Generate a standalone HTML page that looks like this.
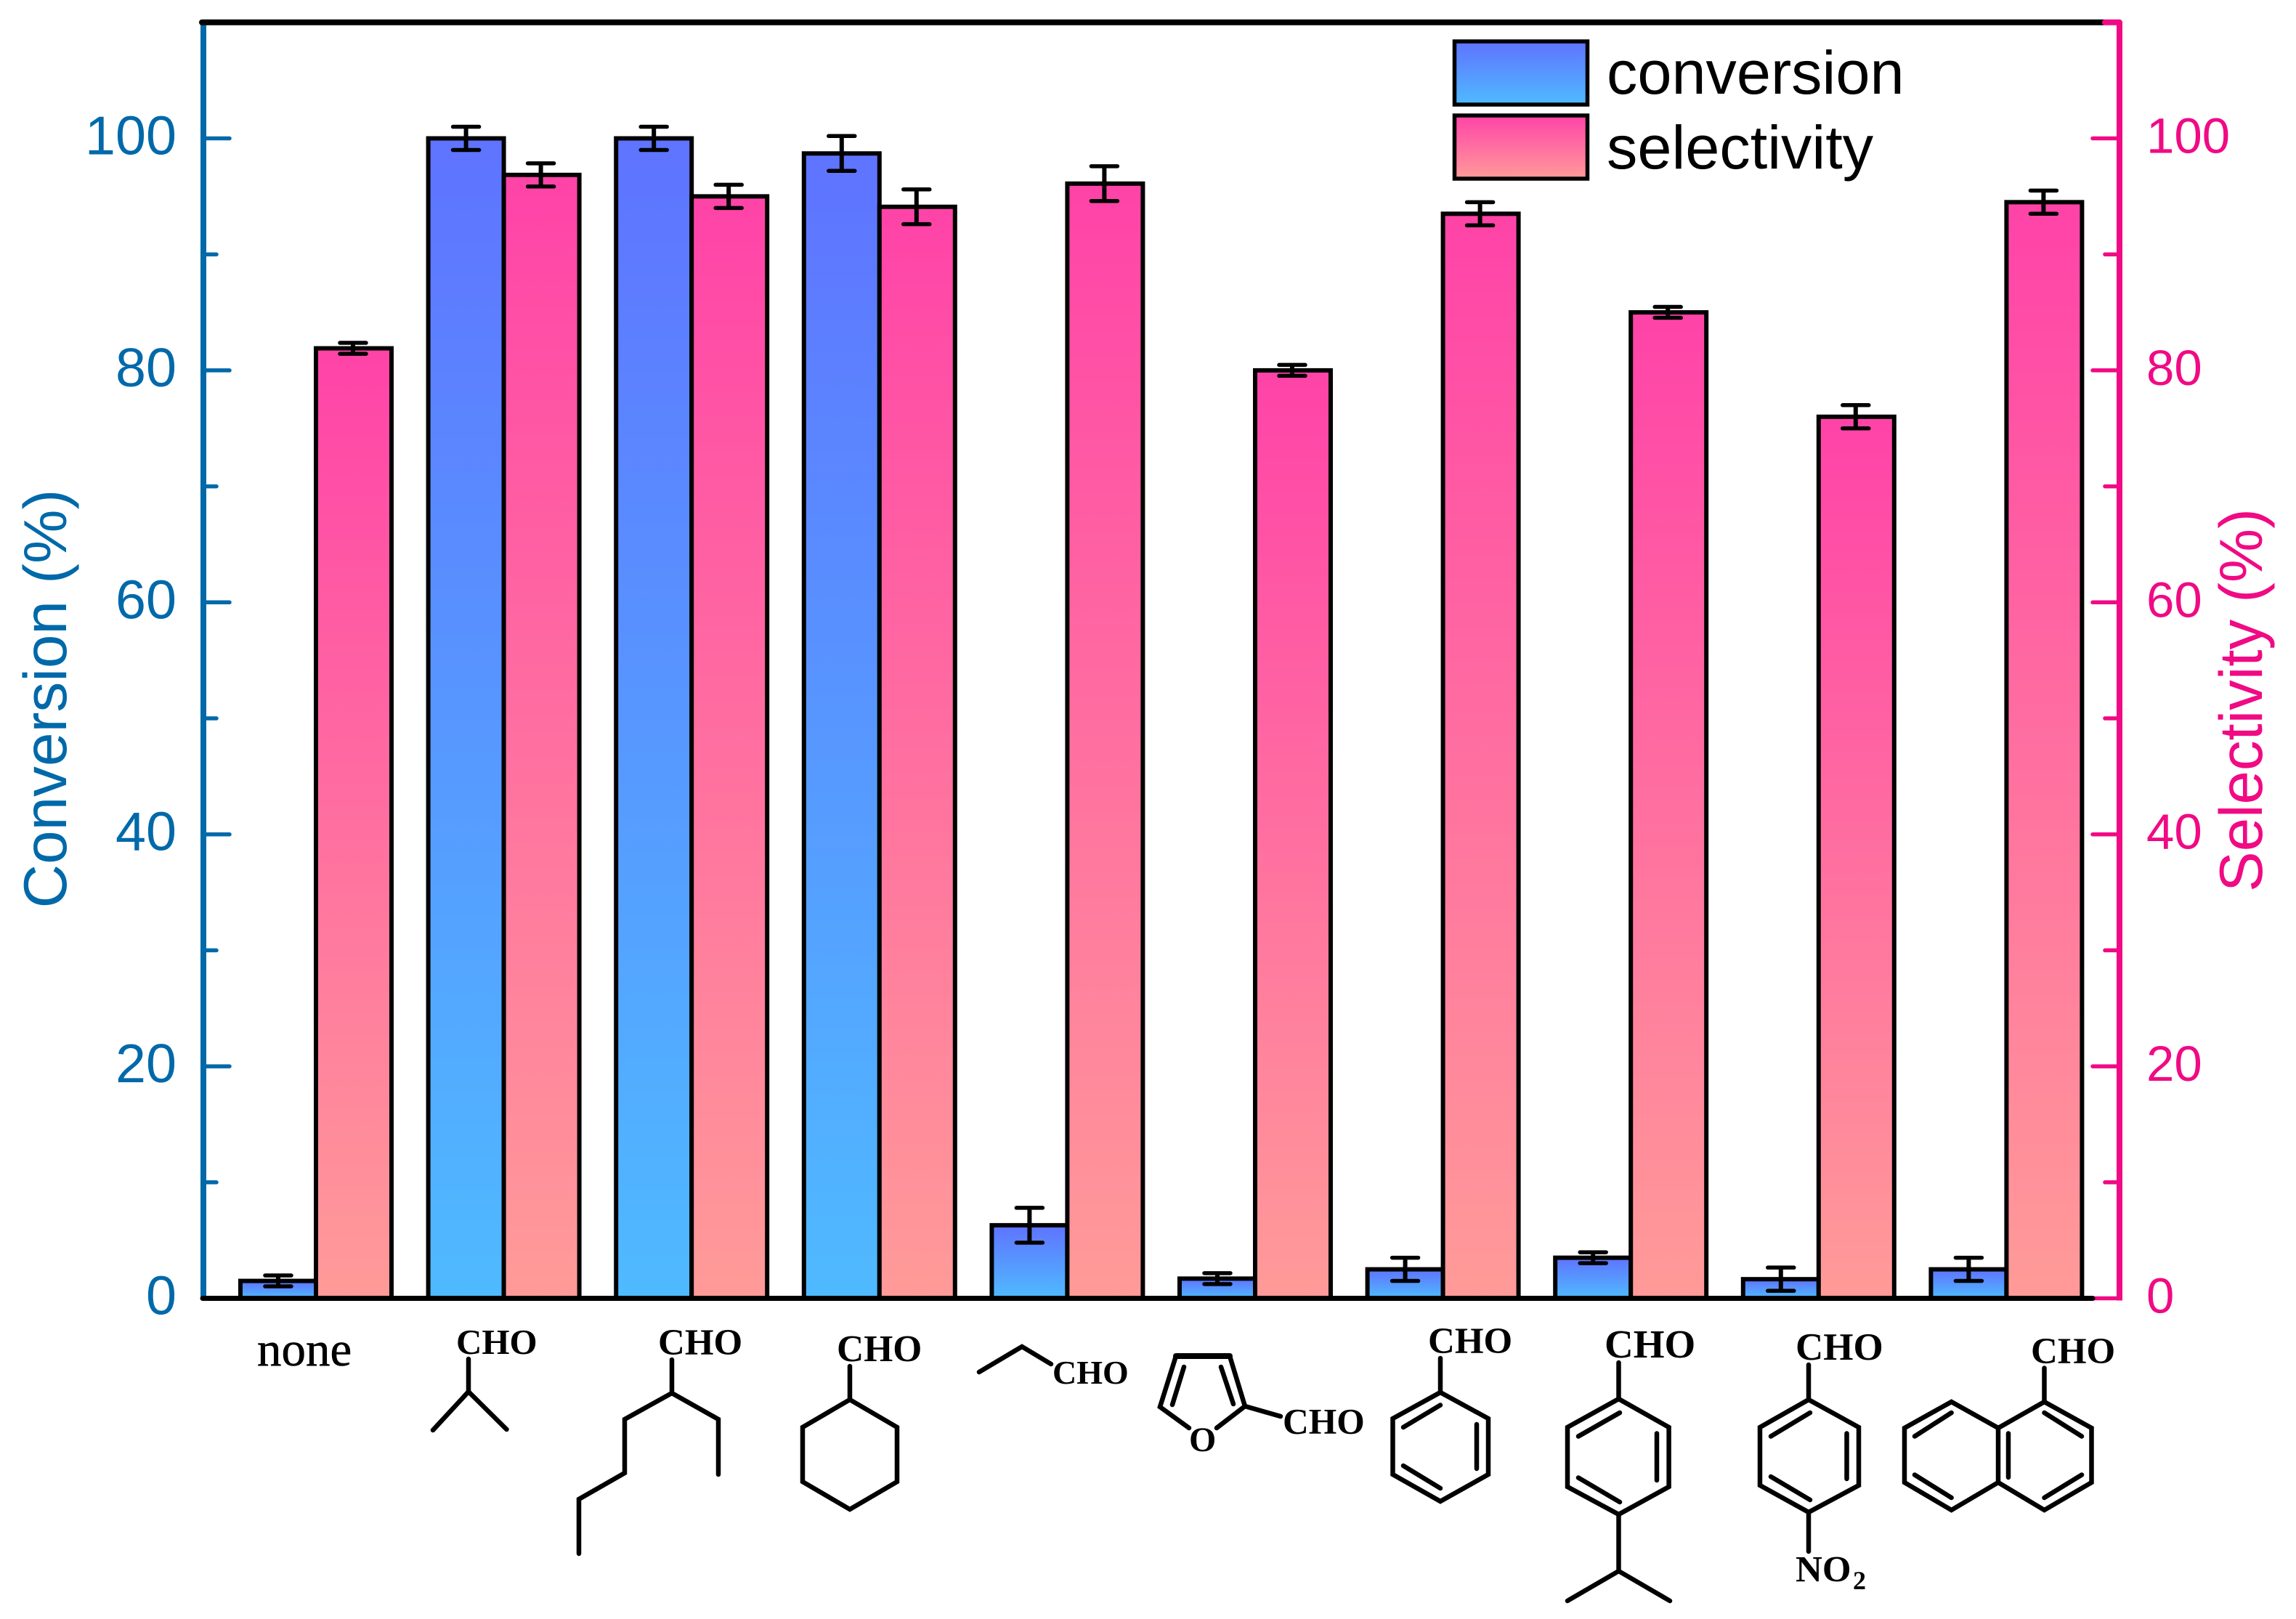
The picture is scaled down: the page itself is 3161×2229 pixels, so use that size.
<!DOCTYPE html>
<html lang="en">
<head>
<meta charset="utf-8">
<title>Conversion and selectivity by aldehyde substrate</title>
<style>
  html, body { margin: 0; padding: 0; background: #fff; width: 3161px; height: 2229px; overflow: hidden; }
  svg { display: block; }
  .mol { fill: none; stroke: #000; stroke-width: 6.5; stroke-linecap: round; stroke-linejoin: miter; }
  .chem { font-family: "Liberation Serif", serif; font-weight: bold; fill: #000; }
</style>
</head>
<body>
<svg id="chart" xmlns="http://www.w3.org/2000/svg" width="3161" height="2229" viewBox="0 0 3161 2229">
  <defs>
    <linearGradient id="grad-conv" x1="0" y1="0" x2="0" y2="1">
      <stop offset="0" stop-color="#5f73ff"/>
      <stop offset="1" stop-color="#4fbaff"/>
    </linearGradient>
    <linearGradient id="grad-sel" x1="0" y1="0" x2="0" y2="1">
      <stop offset="0" stop-color="#ff43a8"/>
      <stop offset="1" stop-color="#ff9b98"/>
    </linearGradient>
  </defs>
  <rect x="0" y="0" width="3161" height="2229" fill="#fff"/>
  <g id="bars"></g>
  <g id="errors"></g>
  <g id="axes"></g>

  <text transform="translate(91,962) rotate(-90)" text-anchor="middle" font-family="'Liberation Sans', sans-serif" font-size="83.7" fill="#0069aa">Conversion (%)</text>
  <text transform="translate(3114,964) rotate(-90)" text-anchor="middle" font-family="'Liberation Sans', sans-serif" font-size="83.3" fill="#f00a84">Selectivity (%)</text>

  <g>
    <g>
      <rect x="2002.5" y="57" width="183" height="87" fill="url(#grad-conv)" stroke="#000" stroke-width="5.5"/>
      <text x="2212" y="129" font-family="'Liberation Sans', sans-serif" font-size="84.7" fill="#000">conversion</text>
    </g>
    <g>
      <rect x="2002.5" y="159" width="183" height="87" fill="url(#grad-sel)" stroke="#000" stroke-width="5.5"/>
      <text x="2212" y="232" font-family="'Liberation Sans', sans-serif" font-size="84.7" fill="#000">selectivity</text>
    </g>
  </g>

  <g>
    <text x="354" y="1880" font-family="'Liberation Serif', serif" font-size="67" fill="#000" stroke="#000" stroke-width="0.6">none</text>

    <g>
      <text class="chem" x="628" y="1864" font-size="49">CHO</text>
      <polyline class="mol" points="645,1871 645,1916 596,1969"/>
      <polyline class="mol" points="645,1916 697.5,1968"/>
    </g>

    <g>
      <text class="chem" x="906" y="1865" font-size="51">CHO</text>
      <polyline class="mol" points="925,1872 925,1918 860,1954 860,2028 797,2064 797,2139"/>
      <polyline class="mol" points="925,1918 989,1954 989,2030"/>
    </g>

    <g>
      <text class="chem" x="1152" y="1874" font-size="51.5">CHO</text>
      <polyline class="mol" points="1170,1881 1170,1927"/>
      <polygon class="mol" points="1170,1927 1235,1965 1235,2040 1170,2078 1105,2040 1105,1965"/>
    </g>

    <g>
      <text class="chem" x="1449" y="1905" font-size="46">CHO</text>
      <polyline class="mol" points="1348,1889 1407,1854 1447,1878"/>
    </g>

    <g>
      <text class="chem" x="1637" y="1998" font-size="48">O</text>
      <text class="chem" x="1766" y="1973.5" font-size="49.5">CHO</text>
      <polyline class="mol" points="1637,1966 1597,1937 1619,1867 1693,1867 1714,1936 1675,1966"/>
      <polyline class="mol" points="1619,1867 1693,1867" style="stroke-width:8"/>
      <polyline class="mol" points="1630,1882 1614,1934"/>
      <polyline class="mol" points="1681,1882 1698,1933"/>
      <polyline class="mol" points="1714,1936 1763,1950"/>
    </g>

    <g>
      <text class="chem" x="1966" y="1863" font-size="51">CHO</text>
      <polyline class="mol" points="1983,1870 1983,1917"/>
      <polygon class="mol" points="1983,1917 2049,1953 2049,2030 1983,2067 1917.5,2030 1917.5,1953"/>
      <polyline class="mol" points="1932,1965 1983,1934.5"/>
      <polyline class="mol" points="2033,1961 2033,2022"/>
      <polyline class="mol" points="1932,2018 1983,2049"/>
    </g>

    <g>
      <text class="chem" x="2209" y="1869" font-size="55">CHO</text>
      <polyline class="mol" points="2228.5,1876 2228.5,1926"/>
      <polygon class="mol" points="2228.5,1926 2297.6,1965 2297.6,2047 2228.5,2085 2158,2047 2158,1965"/>
      <polyline class="mol" points="2173,1977.5 2230,1945"/>
      <polyline class="mol" points="2281,1973.5 2281,2038"/>
      <polyline class="mol" points="2173,2034.5 2230,2068"/>
      <polyline class="mol" points="2228.5,2085 2228.5,2163 2158,2204"/>
      <polyline class="mol" points="2228.5,2163 2299,2204"/>
    </g>

    <g>
      <text class="chem" x="2472" y="1872" font-size="53">CHO</text>
      <polyline class="mol" points="2490,1879 2490,1927"/>
      <polygon class="mol" points="2490,1927 2559,1965 2559,2045 2490,2082 2423,2045 2423,1965"/>
      <polyline class="mol" points="2438,1977.5 2492,1945"/>
      <polyline class="mol" points="2542.5,1973.5 2542.5,2036"/>
      <polyline class="mol" points="2438,2033 2492,2065"/>
      <polyline class="mol" points="2490,2082 2490,2136"/>
      <text class="chem" x="2472" y="2177.5" font-size="51">NO</text>
      <text class="chem" x="2551" y="2188" font-size="36">2</text>
    </g>

    <g>
      <text class="chem" x="2796" y="1877" font-size="51">CHO</text>
      <polyline class="mol" points="2814.5,1883.5 2814.5,1930"/>
      <polygon class="mol" points="2814.5,1930 2879.5,1966 2879.5,2041 2814.5,2079 2751,2041 2751,1966"/>
      <polyline class="mol" points="2751,1966 2686.6,1930 2622,1966 2622,2041 2686.6,2079 2751,2041"/>
      <polyline class="mol" points="2814.5,1945 2866,1977.5"/>
      <polyline class="mol" points="2866,2030.5 2814.5,2062"/>
      <polyline class="mol" points="2765,1973.5 2765,2034"/>
      <polyline class="mol" points="2636,1977.5 2686.6,1945"/>
      <polyline class="mol" points="2636,2030.5 2686.6,2062"/>
    </g>
  </g>
</svg>

<script>
const categories = ["none", "isobutyraldehyde", "2-ethylhexanal", "cyclohexanecarbaldehyde", "propanal", "furfural", "benzaldehyde", "4-isopropylbenzaldehyde", "4-nitrobenzaldehyde", "1-naphthaldehyde"];
const conversion = [1.5, 100, 100, 98.7, 6.3, 1.7, 2.5, 3.5, 1.65, 2.5];
const conversionErr = [0.47, 1, 1, 1.5, 1.5, 0.47, 1, 0.47, 1, 1];
const selectivity = [81.9, 96.85, 95, 94.1, 96.1, 80, 93.5, 85, 76, 94.5];
const selectivityErr = [0.47, 1, 1, 1.5, 1.5, 0.47, 1, 0.47, 1, 1];
const majorTicks = [0, 20, 40, 60, 80, 100];
const minorTicks = [10, 30, 50, 70, 90];

const NS = 'http://www.w3.org/2000/svg';
const barsLayer = document.getElementById('bars');
const errorsLayer = document.getElementById('errors');
const axesLayer = document.getElementById('axes');

function yScale(v) { return 1787.5 - v * 15.97; }
function xScale(i) { return 435 + i * 258.6; }
const BAR_W = 104;
const LEFT_X = 280;
const RIGHT_X = 2918;
const BLUE = '#0069aa';
const PINK = '#f00a84';

function make(tag, attrs, parent) {
  const el = document.createElementNS(NS, tag);
  for (const k in attrs) el.setAttribute(k, attrs[k]);
  parent.appendChild(el);
  return el;
}

function drawBar(i, v, x, fill, series) {
  const top = yScale(v);
  const el = make('rect', { x: x, y: top, width: BAR_W, height: yScale(0) - top, fill: fill, stroke: '#000', 'stroke-width': 6 }, barsLayer);
  
  
}

function drawError(i, v, e, cx, series) {
  const g = make('g', { stroke: '#000', fill: 'none' }, errorsLayer);
  
  
  const hi = yScale(v + e), lo = yScale(v - e);
  make('line', { x1: cx, x2: cx, y1: hi, y2: lo, 'stroke-width': 6 }, g);
  make('line', { x1: cx - 18, x2: cx + 18, y1: hi, y2: hi, 'stroke-width': 5.5, 'stroke-linecap': 'round' }, g);
  make('line', { x1: cx - 18, x2: cx + 18, y1: lo, y2: lo, 'stroke-width': 5.5, 'stroke-linecap': 'round' }, g);
}

categories.forEach(function (c, i) {
  const mid = xScale(i);
  drawBar(i, conversion[i], mid - BAR_W, 'url(#grad-conv)', 'conversion');
  drawBar(i, selectivity[i], mid, 'url(#grad-sel)', 'selectivity');
  drawError(i, conversion[i], conversionErr[i], mid - 52, 'conversion');
  drawError(i, selectivity[i], selectivityErr[i], mid + 51, 'selectivity');
});

/* left axis */
const leftLine = make('line', { x1: LEFT_X, x2: LEFT_X, y1: yScale(110), y2: yScale(0), stroke: BLUE, 'stroke-width': 8 }, axesLayer);



/* right axis */
const rightLine = make('line', { x1: RIGHT_X, x2: RIGHT_X, y1: yScale(110), y2: yScale(0) + 3, stroke: PINK, 'stroke-width': 8 }, axesLayer);



majorTicks.forEach(function (t) {
  const y = yScale(t);
  const lt = make('line', { x1: LEFT_X, x2: 316, y1: y, y2: y, stroke: BLUE, 'stroke-width': 5.5, 'stroke-linecap': 'round' }, axesLayer);
  
  
  const rt = make('line', { x1: 2881, x2: RIGHT_X, y1: y, y2: y, stroke: PINK, 'stroke-width': 5.5, 'stroke-linecap': 'round' }, axesLayer);
  
  

  const ll = make('text', { x: 243, y: y + 22, 'text-anchor': 'end', 'font-family': '"Liberation Sans", sans-serif', 'font-size': 75.5, fill: BLUE }, axesLayer);
  
  
  ll.textContent = String(t);

  const rl = make('text', { x: 2955, y: y + 20, 'text-anchor': 'start', 'font-family': '"Liberation Sans", sans-serif', 'font-size': 69, fill: PINK }, axesLayer);
  
  
  rl.textContent = String(t);
});

minorTicks.forEach(function (t) {
  const y = yScale(t);
  const lt = make('line', { x1: LEFT_X, x2: 298, y1: y, y2: y, stroke: BLUE, 'stroke-width': 5.5, 'stroke-linecap': 'round' }, axesLayer);
  
  
  const rt = make('line', { x1: 2898, x2: RIGHT_X, y1: y, y2: y, stroke: PINK, 'stroke-width': 5.5, 'stroke-linecap': 'round' }, axesLayer);
  
  
});

/* top and bottom black frame */
const topLine = make('line', { x1: 278, x2: 2896, y1: yScale(110), y2: yScale(110), stroke: '#000', 'stroke-width': 8, 'stroke-linecap': 'round' }, axesLayer);


const topDot = make('line', { x1: 2898, x2: RIGHT_X, y1: yScale(110), y2: yScale(110), stroke: PINK, 'stroke-width': 8, 'stroke-linecap': 'round' }, axesLayer);


const bottomLine = make('line', { x1: 279, x2: 2881, y1: yScale(0), y2: yScale(0), stroke: '#000', 'stroke-width': 7, 'stroke-linecap': 'round' }, axesLayer);


</script>
</body>
</html>
